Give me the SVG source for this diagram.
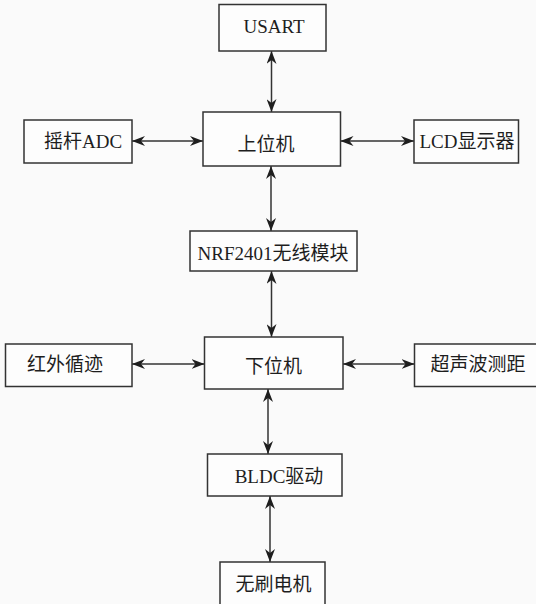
<svg xmlns="http://www.w3.org/2000/svg" width="536" height="604" viewBox="0 0 536 604">
<style>
.box{fill:#fdfdfd;stroke:#333;stroke-width:1.5}
.lbl{font-family:"Liberation Serif","Noto Sans CJK SC",serif;font-size:19px;fill:#1e1e1e;text-anchor:middle}
.con{stroke:#333;stroke-width:1.5;fill:none;marker-start:url(#ah);marker-end:url(#ah)}
</style>
<defs>
<marker id="ah" viewBox="0 0 13 10" refX="13" refY="5" markerWidth="13" markerHeight="10" markerUnits="userSpaceOnUse" orient="auto-start-reverse">
<path d="M0,0 L13,5 L0,10 L4,5 z" fill="#1e1e1e"/>
</marker>
</defs>
<rect x="0" y="0" width="536" height="604" fill="#fafafa"/>
<g id="connectors">
<line class="con" x1="271.5" y1="51" x2="271.5" y2="112"/>
<line class="con" x1="132" y1="141" x2="203" y2="141"/>
<line class="con" x1="340.5" y1="141" x2="414" y2="141"/>
<line class="con" x1="271" y1="166" x2="271" y2="231"/>
<line class="con" x1="271.5" y1="271" x2="271.5" y2="337"/>
<line class="con" x1="132" y1="364" x2="204.5" y2="364"/>
<line class="con" x1="343" y1="364" x2="414.5" y2="364"/>
<line class="con" x1="268" y1="389" x2="268" y2="454"/>
<line class="con" x1="270" y1="496" x2="270" y2="562"/>
</g>
<g id="usart"><rect class="box" x="219" y="4.5" width="107" height="46.5"/><text class="lbl" x="274" y="32.5">USART</text></g>
<g id="upper"><rect class="box" x="203" y="112" width="137.5" height="54"/><text class="lbl" x="266" y="150.5">上位机</text></g>
<g id="joystick"><rect class="box" x="24" y="120" width="108" height="43"/><text class="lbl" x="83" y="148">摇杆ADC</text></g>
<g id="lcd"><rect class="box" x="414" y="120" width="104.5" height="43"/><text class="lbl" x="467" y="148">LCD显示器</text></g>
<g id="nrf"><rect class="box" x="190" y="231" width="167" height="40"/><text class="lbl" x="273" y="260">NRF2401无线模块</text></g>
<g id="lower"><rect class="box" x="204.5" y="337" width="138.5" height="52"/><text class="lbl" x="273.5" y="373">下位机</text></g>
<g id="ir"><rect class="box" x="5.5" y="344" width="126.5" height="42.5"/><text class="lbl" x="65" y="371">红外循迹</text></g>
<g id="ultra"><rect class="box" x="414.5" y="344" width="125" height="42.5"/><text class="lbl" x="478" y="371">超声波测距</text></g>
<g id="bldc"><rect class="box" x="207.5" y="454" width="134.5" height="42"/><text class="lbl" x="279" y="483">BLDC驱动</text></g>
<g id="motor"><rect class="box" x="220" y="562" width="105" height="45"/><text class="lbl" x="273.5" y="590.5">无刷电机</text></g>
</svg>
